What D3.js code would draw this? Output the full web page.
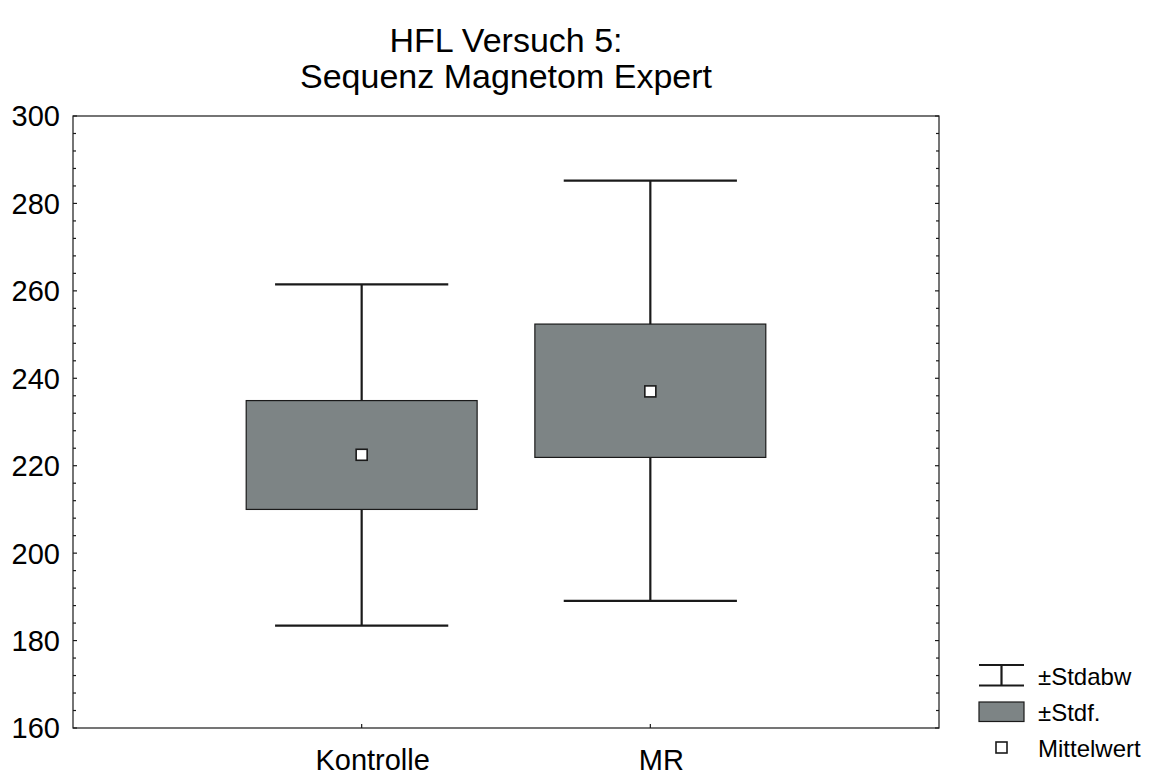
<!DOCTYPE html>
<html>
<head>
<meta charset="utf-8">
<script src="https://cdn.jsdelivr.net/npm/d3@7"></script>
<style>
  html, body { margin: 0; padding: 0; background: #fff; }
  svg { display: block; font-family: "Liberation Sans", Arial, Helvetica, sans-serif; }
</style>
</head>
<body>
<svg id="chart" width="1154" height="776"></svg>
<script>
const titleLines = ["HFL Versuch 5:", "Sequenz Magnetom Expert"];
const categories = ["Kontrolle", "MR"];
const means = [222.5, 237.0];
const seLow = [210.0, 221.9];
const seHigh = [234.9, 252.4];
const sdLow = [183.4, 189.1];
const sdHigh = [261.5, 285.2];
const yTicks = [160, 180, 200, 220, 240, 260, 280, 300];
const yMinorTicks = d3.range(160, 300.1, 4);
const legendLabels = ["±Stdabw", "±Stdf.", "Mittelwert"];

const svg = d3.select("#chart");
const m = { left: 73, right: 939, top: 116, bottom: 728 };
const boxFill = "#7d8485";
const ink = "#1a1a1a";

const x = d3.scalePoint().domain(categories).range([m.left, m.right]).padding(1);
const y = d3.scaleLinear().domain([160, 300]).range([m.bottom, m.top]);
const step = x.step();

// Title
svg.append("g").selectAll("text").data(titleLines).join("text")
  .attr("x", (m.left + m.right) / 2)
  .attr("y", (d, i) => 52 + i * 36)
  .attr("text-anchor", "middle")
  .attr("font-size", 34)
  .attr("fill", "#000")
  .text(d => d);

// Frame
svg.append("rect")
  .attr("x", m.left).attr("y", m.top)
  .attr("width", m.right - m.left).attr("height", m.bottom - m.top)
  .attr("fill", "none").attr("stroke", ink).attr("stroke-width", 1.2);

// Y axis ticks (inward) left and right
const tickG = svg.append("g").attr("stroke", ink).attr("stroke-width", 1.2);
tickG.selectAll("line.lminor").data(yMinorTicks).join("line")
  .attr("x1", m.left).attr("x2", d => m.left + (d % 20 === 0 ? 4 : 3))
  .attr("y1", d => y(d)).attr("y2", d => y(d));
tickG.selectAll("line.rminor").data(yMinorTicks).join("line")
  .attr("x1", m.right).attr("x2", d => m.right - (d % 20 === 0 ? 4 : 3))
  .attr("y1", d => y(d)).attr("y2", d => y(d));
// X ticks (inward)
tickG.selectAll("line.xt").data(categories).join("line")
  .attr("x1", d => x(d)).attr("x2", d => x(d))
  .attr("y1", m.bottom).attr("y2", m.bottom - 4);

// Y tick labels
svg.append("g").selectAll("text").data(yTicks).join("text")
  .attr("x", 60).attr("y", d => y(d))
  .attr("dy", "0.36em")
  .attr("text-anchor", "end")
  .attr("font-size", 29)
  .attr("fill", "#000")
  .text(d => d);

// X labels
svg.append("g").selectAll("text").data(categories).join("text")
  .attr("x", d => x(d) + 11).attr("y", 770)
  .attr("text-anchor", "middle")
  .attr("font-size", 29)
  .attr("fill", "#000")
  .text(d => d);

// Whiskers
const boxW = step * 0.8, capW = step * 0.6;
const wg = svg.append("g").attr("stroke", ink).attr("stroke-width", 2.2).attr("fill", "none");
categories.forEach((c, i) => {
  const cx = x(c);
  wg.append("line").attr("x1", cx).attr("x2", cx).attr("y1", y(sdHigh[i])).attr("y2", y(sdLow[i]));
  wg.append("line").attr("x1", cx - capW / 2).attr("x2", cx + capW / 2).attr("y1", y(sdHigh[i])).attr("y2", y(sdHigh[i]));
  wg.append("line").attr("x1", cx - capW / 2).attr("x2", cx + capW / 2).attr("y1", y(sdLow[i])).attr("y2", y(sdLow[i]));
});

// Boxes
svg.append("g").selectAll("rect").data(categories).join("rect")
  .attr("x", d => x(d) - boxW / 2)
  .attr("y", (d, i) => y(seHigh[i]))
  .attr("width", boxW)
  .attr("height", (d, i) => y(seLow[i]) - y(seHigh[i]))
  .attr("fill", boxFill).attr("stroke", ink).attr("stroke-width", 1.2);

// Means
svg.append("g").selectAll("rect").data(categories).join("rect")
  .attr("x", d => x(d) - 5.5)
  .attr("y", (d, i) => y(means[i]) - 5.5)
  .attr("width", 11).attr("height", 11)
  .attr("fill", "#fff").attr("stroke", ink).attr("stroke-width", 1.6);

// Legend
const lg = svg.append("g");
const lx = 979, lw = 45;
lg.append("line").attr("x1", lx).attr("x2", lx + lw).attr("y1", 665).attr("y2", 665).attr("stroke", ink).attr("stroke-width", 2.2);
lg.append("line").attr("x1", lx).attr("x2", lx + lw).attr("y1", 685.5).attr("y2", 685.5).attr("stroke", ink).attr("stroke-width", 2.2);
lg.append("line").attr("x1", lx + lw / 2).attr("x2", lx + lw / 2).attr("y1", 665).attr("y2", 685.5).attr("stroke", ink).attr("stroke-width", 2.2);
lg.append("rect").attr("x", lx).attr("y", 702).attr("width", lw).attr("height", 19.5)
  .attr("fill", boxFill).attr("stroke", ink).attr("stroke-width", 1.2);
lg.append("rect").attr("x", lx + lw / 2 - 5.5).attr("y", 742).attr("width", 11).attr("height", 11)
  .attr("fill", "#fff").attr("stroke", ink).attr("stroke-width", 1.6);
lg.selectAll("text").data(legendLabels).join("text")
  .attr("x", 1038)
  .attr("y", (d, i) => [685, 721, 757][i])
  .attr("font-size", 24)
  .attr("fill", "#000")
  .text(d => d);
</script>
</body>
</html>
